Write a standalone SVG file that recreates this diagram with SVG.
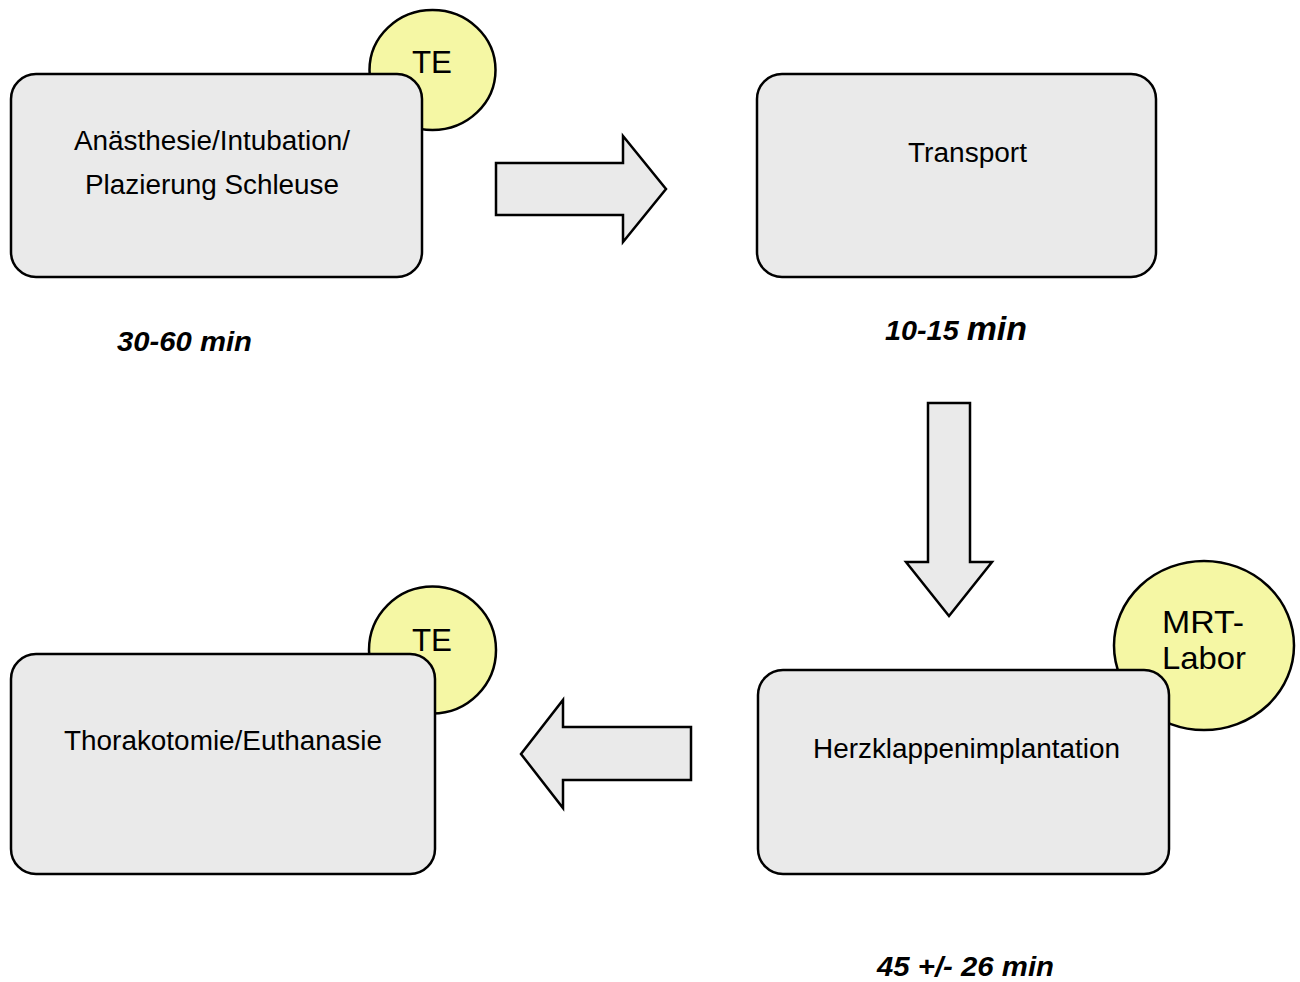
<svg xmlns="http://www.w3.org/2000/svg" width="1300" height="982" viewBox="0 0 1300 982">
<style>
.box{fill:#eaeaea;stroke:#000;stroke-width:2.5}
.circ{fill:#f5f7a4;stroke:#000;stroke-width:2.5}
.arr{fill:#eaeaea;stroke:#000;stroke-width:2.5;stroke-linejoin:miter}
text{font-family:"Liberation Sans",Arial,sans-serif;fill:#000;text-anchor:middle}
.lbl{font-size:27px}
.big{font-size:32px}
.t{font-size:28px;font-weight:bold;font-style:italic}
</style>
<rect width="1300" height="982" fill="#fff"/>
<g id="te1">
<ellipse class="circ" cx="432.5" cy="70" rx="63" ry="60"/>
<text class="big" x="432" y="73" textLength="40" lengthAdjust="spacingAndGlyphs">TE</text>
</g>
<g id="anaesthesie">
<rect class="box" x="11" y="74" width="411" height="203" rx="25"/>
<text class="lbl" x="212" y="150" textLength="276" lengthAdjust="spacingAndGlyphs">Anästhesie/Intubation/</text>
<text class="lbl" x="212" y="194" textLength="254" lengthAdjust="spacingAndGlyphs">Plazierung Schleuse</text>
</g>
<g id="transport">
<rect class="box" x="757" y="74" width="399" height="203" rx="25"/>
<text class="lbl" x="967.5" y="162" textLength="119" lengthAdjust="spacingAndGlyphs">Transport</text>
</g>
<g id="mrt">
<ellipse class="circ" cx="1204" cy="645.5" rx="90" ry="84.5"/>
<text class="big" x="1203" y="633" textLength="82" lengthAdjust="spacingAndGlyphs">MRT-</text>
<text class="big" x="1204" y="669" textLength="84" lengthAdjust="spacingAndGlyphs">Labor</text>
</g>
<g id="herzklappe">
<rect class="box" x="758" y="670" width="411" height="204" rx="25"/>
<text class="lbl" x="966.5" y="758" textLength="307" lengthAdjust="spacingAndGlyphs">Herzklappenimplantation</text>
</g>
<g id="te2">
<circle class="circ" cx="432.5" cy="650" r="63.5"/>
<text class="big" x="432" y="651" textLength="40" lengthAdjust="spacingAndGlyphs">TE</text>
</g>
<g id="thorakotomie">
<rect class="box" x="11" y="654" width="424" height="220" rx="25"/>
<text class="lbl" x="223" y="750" textLength="318" lengthAdjust="spacingAndGlyphs">Thorakotomie/Euthanasie</text>
</g>
<g id="connectors">
<polygon class="arr" points="496,163 623,163 623,136 666,189 623,242 623,215 496,215"/>
<polygon class="arr" points="928,403 970,403 970,562 992,562 949,616 906,562 928,562"/>
<polygon class="arr" points="691,727 563,727 563,700 521,754 563,808 563,780 691,780"/>
</g>
<g id="times">
<text class="t" x="184.5" y="351" textLength="135" lengthAdjust="spacingAndGlyphs">30-60 min</text>
<text class="t" x="956" y="340" textLength="142" lengthAdjust="spacingAndGlyphs"><tspan font-size="28">10-15 </tspan><tspan font-size="33">min</tspan></text>
<text class="t" x="965.5" y="976" textLength="177" lengthAdjust="spacingAndGlyphs">45 +/- 26 min</text>
</g>
</svg>
